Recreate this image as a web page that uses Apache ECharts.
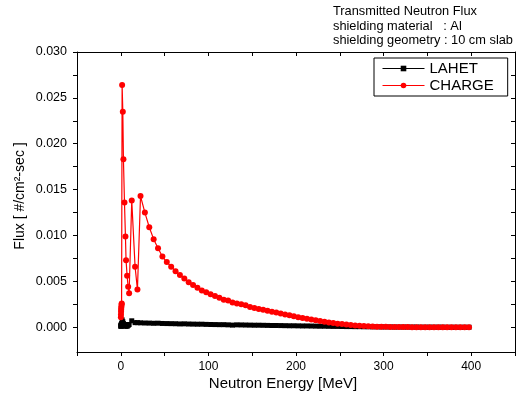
<!DOCTYPE html>
<html>
<head>
<meta charset="utf-8">
<script src="https://cdn.jsdelivr.net/npm/echarts@6/dist/echarts.min.js"></script>
<style>html,body{margin:0;padding:0;background:#fff;}#c{width:524px;height:401px;}</style>
</head>
<body>
<div id="c"></div>
<script>
// Neutron energy [MeV] of each point
var energy = [0.1, 0.2, 0.3, 0.4, 0.5, 0.7, 0.9, 1.1, 1.5, 2.3, 3.0, 4.2, 5.3, 6.0, 7.2, 8.4, 9.5, 12.5, 16.3, 19.0,
  22.5, 27.5, 32.5, 37.5, 42.5, 47.5, 52.5, 57.5, 62.5, 67.5, 72.5, 77.5, 82.5, 87.5, 92.5, 97.5,
  102.5, 107.5, 112.5, 117.5, 122.5, 127.5, 132.5, 137.5, 142.5, 147.5, 152.5, 157.5, 162.5, 167.5, 172.5, 177.5,
  182.5, 187.5, 192.5, 197.5, 202.5, 207.5, 212.5, 217.5, 222.5, 227.5, 232.5, 237.5, 242.5, 247.5, 252.5, 257.5,
  262.5, 267.5, 272.5, 277.5, 282.5, 287.5, 292.5, 297.5, 302.5, 307.5, 312.5, 317.5, 322.5, 327.5, 332.5, 337.5,
  342.5, 347.5, 352.5, 357.5, 362.5, 367.5, 372.5, 377.5, 382.5, 387.5, 392.5, 397.5];

// LAHET flux
var lahet = [0.0001, 0.0002, 0.0001, 0.0002, 0.0003, 0.0002, 0.0004, 0.0003, 0.0008, 0.0006, 0.0004, 0.0002, 0.0001, 0.0003, 0.0001, 0.0002, 0.0003, 0.0007, 0.0005, 0.0005,
  0.00048, 0.00046, 0.00045, 0.00043, 0.00044, 0.00041, 0.00040, 0.00039, 0.00038, 0.00036, 0.00037, 0.00035, 0.00034, 0.00033, 0.00033, 0.00031,
  0.00030, 0.00029, 0.00028, 0.00028, 0.00026, 0.00023, 0.00026, 0.00025, 0.00024, 0.00023, 0.00022, 0.00022, 0.00021, 0.00020, 0.00019, 0.00019,
  0.00018, 0.00017, 0.00016, 0.00016, 0.00015, 0.00014, 0.00014, 0.00013, 0.00012, 0.00011, 0.00011, 0.00010, 0.00009, 0.00009, 0.00008, 0.00007,
  0.00007, 0.00006, 0.00006, 0.00005, 0.00005, 0.00004, 0.00004, 0.00003, 0.00003, 0.00003, 0.00002, 0.00002, 0.00002, 0.00002, 0.00002, 0.00002,
  0.00001, 0.00001, 0.00001, 0.00001, 0.00001, 0.00001, 0, 0, 0, 0, 0, 0];

// CHARGE flux
var charge = [0.0011, 0.0014, 0.0017, 0.0019, 0.0021, 0.0023, 0.0025, 0.0026, 0.0264, 0.0235, 0.0183, 0.0136, 0.0099, 0.0073, 0.0056, 0.0044, 0.0037, 0.0138, 0.0066, 0.0041,
  0.0143, 0.0125, 0.0109, 0.0096, 0.0086, 0.0077, 0.0071, 0.0066, 0.0061, 0.0057, 0.0053, 0.0049, 0.0046, 0.0043, 0.0040, 0.0038,
  0.0036, 0.0034, 0.0032, 0.0030, 0.0029, 0.0027, 0.0026, 0.0025, 0.0024, 0.0022, 0.0021, 0.0020, 0.0019, 0.0018, 0.0017, 0.0016,
  0.0015, 0.0014, 0.0013, 0.0012, 0.0011, 0.00101, 0.00092, 0.00083, 0.00075, 0.00067, 0.00059, 0.00052, 0.00045, 0.00039, 0.00034, 0.00029,
  0.00024, 0.00020, 0.00016, 0.00013, 0.00010, 0.00008, 0.00006, 0.00005, 0.00004, 0.00003, 0.00003, 0.00002, 0.00002, 0.00002, 0.00001, 0.00001,
  0.00001, 0.00001, 0.00001, 0.00001, 0.00001, 0, 0, 0, 0, 0, 0, 0];

var yTickValues = [0, 0.0025, 0.005, 0.0075, 0.010, 0.0125, 0.015, 0.0175, 0.020, 0.0225, 0.025, 0.0275, 0.030];
var yLabelValues = [0, 0.005, 0.010, 0.015, 0.020, 0.025, 0.030];
var titleLines = ['Transmitted Neutron Flux', 'shielding material   : Al', 'shielding geometry : 10 cm slab'];

var FONT = 'Liberation Sans, Arial, sans-serif';
function pairs(ys) { return energy.map(function (e, i) { return [e, ys[i]]; }); }

var chart = echarts.init(document.getElementById('c'), null, { renderer: 'canvas' });
var xCommon = { type: 'value', min: -50, max: 450, interval: 50, splitLine: { show: false } };
var yCommon = { type: 'value', min: -0.0027, max: 0.030, splitLine: { show: false } };
chart.setOption({
  animation: false,
  backgroundColor: '#fff',
  grid: { left: 77, right: 9, top: 52, bottom: 49 },
  xAxis: [
    Object.assign({}, xCommon, {
      position: 'bottom',
      axisLine: { show: true, onZero: false, lineStyle: { color: '#000', width: 1 } },
      axisTick: { show: true, inside: false, length: 4, lineStyle: { color: '#000' } },
      axisLabel: { color: '#000', fontSize: 12, fontFamily: FONT, margin: 9,
        formatter: function (v) { return (v >= 0 && v % 100 === 0) ? String(v) : ''; } }
    }),
    Object.assign({}, xCommon, {
      position: 'top',
      axisLine: { show: true, onZero: false, lineStyle: { color: '#000', width: 1 } },
      axisTick: { show: true, inside: true, length: 4, lineStyle: { color: '#000' } },
      axisLabel: { show: false }
    })
  ],
  yAxis: [
    Object.assign({}, yCommon, {
      position: 'left',
      axisLine: { show: true, onZero: false, lineStyle: { color: '#000', width: 1 } },
      axisTick: { show: true, inside: false, length: 4, customValues: yTickValues, lineStyle: { color: '#000' } },
      axisLabel: { color: '#000', fontSize: 12.5, fontFamily: FONT, margin: 10, customValues: yLabelValues,
        formatter: function (v) { return v.toFixed(3); } }
    }),
    Object.assign({}, yCommon, {
      position: 'right',
      axisLine: { show: true, onZero: false, lineStyle: { color: '#000', width: 1 } },
      axisTick: { show: true, inside: true, length: 4, customValues: yTickValues, lineStyle: { color: '#000' } },
      axisLabel: { show: false }
    })
  ],
  legend: {
    left: 374, top: 58, orient: 'vertical',
    data: ['LAHET', 'CHARGE'],
    borderColor: '#000', borderWidth: 1, borderRadius: 0,
    padding: [3, 14, 3, 8], itemGap: 2, itemWidth: 42, itemHeight: 7,
    lineStyle: { width: 1 },
    textStyle: { color: '#000', fontSize: 15, fontFamily: FONT }
  },
  graphic: [
    { type: 'text', left: 333, top: 5, style: { text: titleLines[0], font: '12.8px ' + FONT, fill: '#000' } },
    { type: 'text', left: 333, top: 19.5, style: { text: titleLines[1], font: '12.8px ' + FONT, fill: '#000' } },
    { type: 'text', left: 333, top: 34, style: { text: titleLines[2], font: '12.8px ' + FONT, fill: '#000' } },
    { type: 'text', x: 283, y: 384, style: { text: 'Neutron Energy [MeV]', font: '15px ' + FONT, fill: '#000', align: 'center', verticalAlign: 'middle' } },
    { type: 'text', x: 20, y: 196, rotation: Math.PI / 2, style: { text: 'Flux [ #/cm²-sec ]', font: '14px ' + FONT, fill: '#000', align: 'center', verticalAlign: 'middle' } }
  ],
  series: [
    { name: 'LAHET', type: 'line', data: pairs(lahet), symbol: 'rect', symbolSize: 5,
      itemStyle: { color: '#000' }, lineStyle: { color: '#000', width: 1.5 } },
    { name: 'CHARGE', type: 'line', data: pairs(charge), symbol: 'circle', symbolSize: 6,
      itemStyle: { color: '#ff0000' }, lineStyle: { color: '#ff0000', width: 1.2 } }
  ]
});
</script>
</body>
</html>
